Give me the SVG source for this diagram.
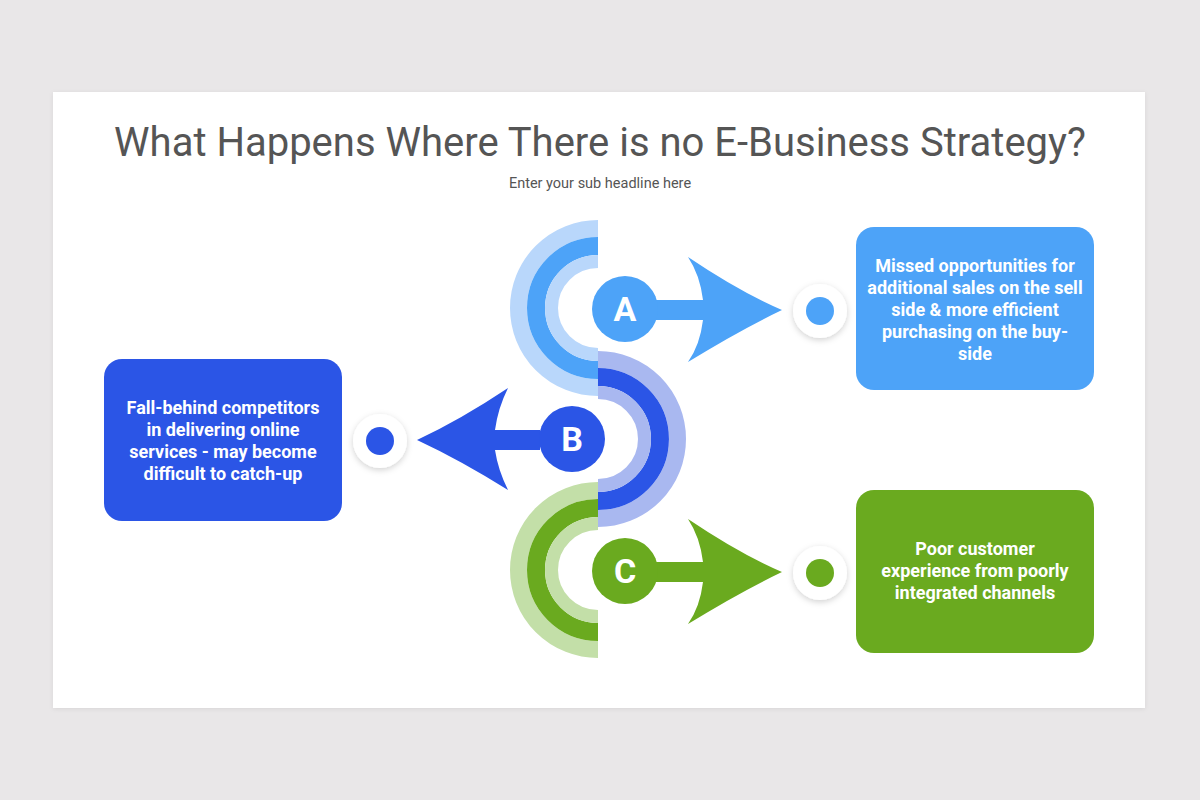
<svg xmlns="http://www.w3.org/2000/svg" width="1200" height="800" viewBox="0 0 1200 800">
<defs>
<filter id="sh" x="-50%" y="-50%" width="200%" height="200%"><feDropShadow dx="0" dy="2" stdDeviation="3" flood-color="#000" flood-opacity="0.18"/></filter>
<filter id="cardsh" x="-5%" y="-5%" width="110%" height="110%"><feDropShadow dx="0" dy="1" stdDeviation="2" flood-color="#000" flood-opacity="0.08"/></filter>
<style>
.title{font-family:Roboto,"Liberation Sans",sans-serif;font-size:40px;fill:#555;text-anchor:middle}
.sub{font-family:Roboto,"Liberation Sans",sans-serif;font-size:14.5px;fill:#555;text-anchor:middle}
.bt{font-family:Roboto,"Liberation Sans",sans-serif;font-size:18px;font-weight:bold;fill:#fff;text-anchor:middle}
.let{font-family:Roboto,"Liberation Sans",sans-serif;font-size:34px;font-weight:bold;fill:#fff;text-anchor:middle}
.arc{fill:none}
</style>
</defs>
<rect width="1200" height="800" fill="#e9e7e8"/>
<rect x="53" y="92" width="1092" height="616" fill="#fff" filter="url(#cardsh)"/>
<text class="title" x="600" y="156">What Happens Where There is no E-Business Strategy?</text>
<text class="sub" x="600" y="188">Enter your sub headline here</text>

<g id="arcs">
<path class="arc" d="M598 228.5 A79.5 79.5 0 0 0 598 387.5" stroke="#b9d7fb" stroke-width="17"/>
<path class="arc" d="M598 246 A62 62 0 0 0 598 370" stroke="#4da3f8" stroke-width="18"/>
<path class="arc" d="M598 261.5 A46.5 46.5 0 0 0 598 354.5" stroke="#b9d7fb" stroke-width="13"/>
<path class="arc" d="M598 359.5 A79.5 79.5 0 0 1 598 518.5" stroke="#a9b8f0" stroke-width="17"/>
<path class="arc" d="M598 377 A62 62 0 0 1 598 501" stroke="#2b55e6" stroke-width="18"/>
<path class="arc" d="M598 392.5 A46.5 46.5 0 0 1 598 485.5" stroke="#a9b8f0" stroke-width="13"/>
<path class="arc" d="M598 490.5 A79.5 79.5 0 0 0 598 649.5" stroke="#c3dfa8" stroke-width="17"/>
<path class="arc" d="M598 508 A62 62 0 0 0 598 632" stroke="#6aaa1f" stroke-width="18"/>
<path class="arc" d="M598 523.5 A46.5 46.5 0 0 0 598 616.5" stroke="#c3dfa8" stroke-width="13"/>
</g>

<g id="connectors">
<path d="M640 300 L703 300 Q700 275 688 257 Q740 292 782 310 Q740 330 688 362 Q700 345 703 320 L640 320 Z" fill="#4da3f8"/>
<path d="M540 430 L495 430 Q498 408 508 388 Q460 420 417 440 Q460 460 508 490 Q498 470 495 450 L540 450 Z" fill="#2b55e6"/>
<path d="M640 562 L703 562 Q700 537 688 519 Q740 554 782 572 Q740 592 688 624 Q700 607 703 582 L640 582 Z" fill="#6aaa1f"/>
</g>

<g id="nodeA">
<circle cx="625" cy="309" r="33" fill="#4da3f8"/>
<text class="let" x="625" y="321">A</text>
<circle cx="820" cy="311" r="27" fill="#fff" filter="url(#sh)"/>
<circle cx="820" cy="311" r="14" fill="#4da3f8"/>
<rect x="856" y="227" width="238" height="163" rx="18" fill="#4da3f8"/>
<text class="bt" x="975" y="272">Missed opportunities for</text>
<text class="bt" x="975" y="294">additional sales on the sell</text>
<text class="bt" x="975" y="316">side &amp; more efficient</text>
<text class="bt" x="975" y="338">purchasing on the buy-</text>
<text class="bt" x="975" y="360">side</text>
</g>

<g id="nodeB">
<circle cx="572" cy="439" r="33" fill="#2b55e6"/>
<text class="let" x="572" y="451">B</text>
<circle cx="380" cy="441" r="27" fill="#fff" filter="url(#sh)"/>
<circle cx="380" cy="441" r="14" fill="#2b55e6"/>
<rect x="104" y="359" width="238" height="162" rx="18" fill="#2b55e6"/>
<text class="bt" x="223" y="414">Fall-behind competitors</text>
<text class="bt" x="223" y="436">in delivering online</text>
<text class="bt" x="223" y="458">services - may become</text>
<text class="bt" x="223" y="480">difficult to catch-up</text>
</g>

<g id="nodeC">
<circle cx="625" cy="571" r="33" fill="#6aaa1f"/>
<text class="let" x="625" y="583">C</text>
<circle cx="820" cy="573" r="27" fill="#fff" filter="url(#sh)"/>
<circle cx="820" cy="573" r="14" fill="#6aaa1f"/>
<rect x="856" y="490" width="238" height="163" rx="18" fill="#6aaa1f"/>
<text class="bt" x="975" y="555">Poor customer</text>
<text class="bt" x="975" y="577">experience from poorly</text>
<text class="bt" x="975" y="599">integrated channels</text>
</g>
</svg>
